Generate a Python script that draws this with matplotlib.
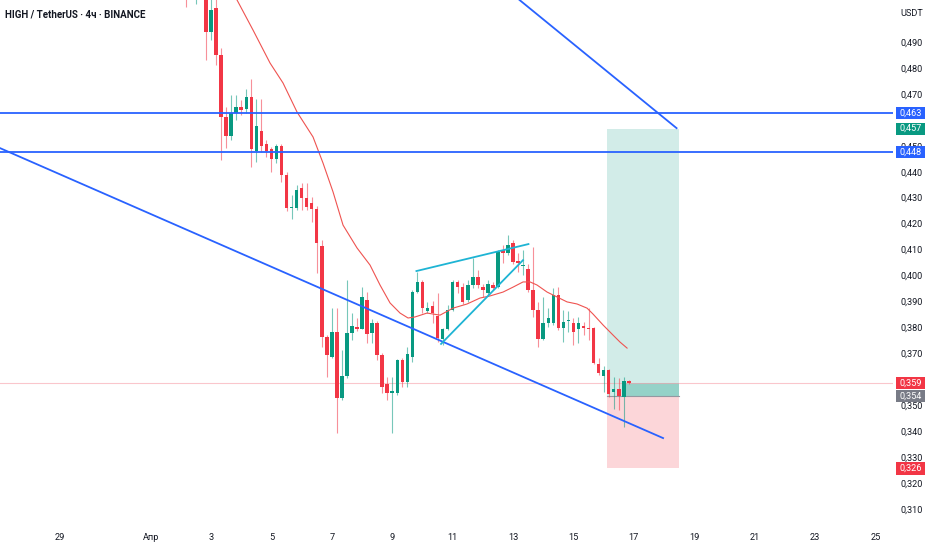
import numpy as np
import pandas as pd
import matplotlib
matplotlib.use("Agg")
import matplotlib.pyplot as plt
import matplotlib.transforms as mtransforms
from matplotlib.patches import Rectangle

# HIGH/USDT 4h candles, first bar Apr 2 04:00
FIRST_BAR = "2025-04-02 04:00"
opens = [0.515, 0.510, 0.512, 0.515, 0.511, 0.4942, 0.5035, 0.4854, 0.4615, 0.4541,
         0.4630, 0.4653, 0.4645, 0.4692, 0.4484, 0.4561, 0.4511, 0.4491, 0.4453, 0.4503,
         0.4391, 0.4264, 0.4264, 0.4341, 0.4302, 0.4283, 0.4260, 0.4118, 0.3767, 0.3690,
         0.3786, 0.3531, 0.3616, 0.3782, 0.3805, 0.3797, 0.3909, 0.3782, 0.3821, 0.3697,
         0.3585, 0.3551, 0.3551, 0.3678, 0.3593, 0.3690, 0.3940, 0.3979, 0.3867, 0.3886,
         0.3848, 0.3759, 0.3797, 0.3871, 0.3979, 0.3959, 0.3909, 0.3967, 0.3998, 0.3959,
         0.3936, 0.3967, 0.3959, 0.4102, 0.4090, 0.4129, 0.4060, 0.4040, 0.4029, 0.3948,
         0.3871, 0.3759, 0.3821, 0.3821, 0.3929, 0.3801, 0.3828, 0.3821, 0.3797, 0.3809,
         0.3797, 0.3801, 0.3663, 0.3616, 0.3639, 0.3555, 0.3566, 0.3535, 0.3597]
highs = [0.518, 0.516, 0.518, 0.517, 0.513, 0.508, 0.507, 0.4881, 0.4653, 0.4700,
         0.4700, 0.4680, 0.4723, 0.4761, 0.4684, 0.4684, 0.4526, 0.4499, 0.4511, 0.4511,
         0.4403, 0.4314, 0.4353, 0.4360, 0.4360, 0.4306, 0.4272, 0.4141, 0.3774, 0.3878,
         0.3878, 0.3717, 0.3986, 0.3859, 0.3840, 0.3959, 0.3940, 0.3836, 0.3828, 0.3705,
         0.3612, 0.3612, 0.3682, 0.3686, 0.3728, 0.3948, 0.4017, 0.3986, 0.3902, 0.3905,
         0.3936, 0.3801, 0.3890, 0.3986, 0.3986, 0.3975, 0.3986, 0.4071, 0.4025, 0.3971,
         0.3986, 0.3979, 0.4102, 0.4121, 0.4160, 0.4141, 0.4090, 0.4102, 0.4048, 0.4114,
         0.3902, 0.3921, 0.3878, 0.3956, 0.3959, 0.3871, 0.3867, 0.3840, 0.3844, 0.3824,
         0.3878, 0.3805, 0.3686, 0.3655, 0.3643, 0.3612, 0.3609, 0.3612, 0.3601]
lows = [0.504, 0.508, 0.505, 0.509, 0.4834, 0.4912, 0.4815, 0.4449, 0.4495, 0.4526,
        0.4603, 0.4622, 0.4630, 0.4422, 0.4441, 0.4480, 0.4461, 0.4403, 0.4437, 0.4364,
        0.4252, 0.4222, 0.4256, 0.4256, 0.4256, 0.4210, 0.4013, 0.3728, 0.3612, 0.3686,
        0.3397, 0.3524, 0.3610, 0.3755, 0.3790, 0.3797, 0.3743, 0.3743, 0.3678, 0.3551,
        0.3524, 0.3397, 0.3543, 0.3574, 0.3574, 0.3670, 0.3936, 0.3859, 0.3859, 0.3821,
        0.3747, 0.3736, 0.3794, 0.3867, 0.3936, 0.3894, 0.3902, 0.3956, 0.3956, 0.3921,
        0.3925, 0.3948, 0.3956, 0.4052, 0.4083, 0.4048, 0.4017, 0.4006, 0.3940, 0.3844,
        0.3728, 0.3755, 0.3805, 0.3813, 0.3794, 0.3747, 0.3786, 0.3736, 0.3743, 0.3774,
        0.3755, 0.3663, 0.3620, 0.3555, 0.3535, 0.3489, 0.3485, 0.3420, 0.3585]
closes = [0.510, 0.512, 0.515, 0.511, 0.4942, 0.5027, 0.4854, 0.4615, 0.4541, 0.4630,
          0.4653, 0.4642, 0.4692, 0.4491, 0.4580, 0.4503, 0.4484, 0.4453, 0.4503, 0.4391,
          0.4264, 0.4268, 0.4333, 0.4302, 0.4268, 0.4260, 0.4129, 0.3767, 0.3697, 0.3786,
          0.3531, 0.3616, 0.3782, 0.3809, 0.3797, 0.3921, 0.3778, 0.3821, 0.3697, 0.3574,
          0.3551, 0.3558, 0.3678, 0.3593, 0.3700, 0.3940, 0.3979, 0.3878, 0.3878, 0.3859,
          0.3763, 0.3797, 0.3871, 0.3979, 0.3959, 0.3902, 0.3967, 0.3998, 0.3967, 0.3948,
          0.3971, 0.3956, 0.4094, 0.4090, 0.4121, 0.4056, 0.4052, 0.4044, 0.3948, 0.3871,
          0.3759, 0.3821, 0.3840, 0.3929, 0.3801, 0.3824, 0.3830, 0.3786, 0.3821, 0.3801,
          0.3794, 0.3666, 0.3628, 0.3639, 0.3547, 0.3566, 0.3539, 0.3597, 0.3590]

# moving average line (april day, price)
ma_days = [3.861, 4.391, 4.954, 5.384, 5.848, 6.377, 6.709, 7.040, 7.371, 7.834,
           8.265, 8.596, 8.927, 9.258, 9.523, 9.755, 10.152, 10.583, 11.013, 11.477,
           11.907, 12.238, 12.669, 13.000, 13.331, 13.563, 13.795, 14.126, 14.457, 14.788,
           15.119, 15.450, 15.649, 15.980, 16.311, 16.543, 16.775]
ma_vals = [0.5066, 0.4950, 0.4823, 0.4746, 0.4634, 0.4538, 0.4437, 0.4326, 0.4198, 0.4110,
           0.4044, 0.3967, 0.3898, 0.3859, 0.3840, 0.3844, 0.3859, 0.3851, 0.3878, 0.3894,
           0.3917, 0.3925, 0.3940, 0.3959, 0.3979, 0.3979, 0.3967, 0.3940, 0.3921, 0.3902,
           0.3894, 0.3878, 0.3855, 0.3813, 0.3774, 0.3747, 0.3724]

# drawings
h_levels = [0.463, 0.448]
upper_trend = ([13.215, 18.414], [0.5066, 0.4572])
lower_trend = ([-3.987, 17.967], [0.4495, 0.3377])
wedge_top = ([9.801, 13.51], [0.4021, 0.4125])
wedge_bottom = ([10.616, 13.33], [0.3740, 0.4063])

entry, target, stop = 0.354, 0.457, 0.326
pos_start, pos_end, pnl_start = 16.113, 18.497, 16.62
last_price = 0.359

price_tags = [(0.463, "#2962FF"), (0.457, "#089981"), (0.448, "#2962FF"),
              (0.359, "#F23645"), (0.354, "#787B86"), (0.326, "#F23645")]
# 0,460 and 0,360 sit fully under the price tags, so they are not shown
y_ticks = [0.49, 0.48, 0.47, 0.45, 0.44, 0.43, 0.42, 0.41, 0.40,
           0.39, 0.38, 0.37, 0.35, 0.34, 0.33, 0.32, 0.31]
x_ticks = [-2, 1, 3, 5, 7, 9, 11, 13, 15, 17, 19, 21, 23, 25]
x_labels = ["29", "Апр", "3", "5", "7", "9", "11", "13", "15", "17", "19", "21", "23", "25"]

UP = "#089981"
DOWN = "#F23645"
BLUE = "#2962FF"
TEXT = "#131722"
W, H = 932, 550

plt.rcParams["font.family"] = ["Roboto", "DejaVu Sans"]

fig = plt.figure(figsize=(W / 100, H / 100), dpi=100)
ax = fig.add_axes([0, 1 - 523 / H, 893 / W, 523 / H])
ax.axis("off")
ax.set_xlim(-3.987, 25.58)
ax.set_ylim(0.30496, 0.5066)

bars = pd.date_range(FIRST_BAR, periods=len(opens), freq="4h")
x = ((bars - pd.Timestamp("2025-04-01")) / pd.Timedelta(days=1) + 1).to_numpy()
o = np.array(opens)
c = np.array(closes)
colors = [UP if cc >= oo else DOWN for oo, cc in zip(o, c)]
body = c - o
body = np.where(np.abs(body) < 0.0004, 0.0004, body)

# position tool
ax.add_patch(Rectangle((pos_start, entry), pos_end - pos_start, target - entry,
                       color=UP, alpha=0.18, lw=0, zorder=1))
ax.add_patch(Rectangle((pos_start, stop), pos_end - pos_start, entry - stop,
                       color=DOWN, alpha=0.2, lw=0, zorder=1))
ax.add_patch(Rectangle((pnl_start, entry), pos_end - pnl_start, last_price - entry,
                       color=UP, alpha=0.3, lw=0, zorder=1))
ax.plot([pos_start, pos_end], [entry, entry], color="#9598A1", lw=0.8, zorder=1)

ax.axhline(last_price, color="#F7A1AA", lw=0.8, alpha=0.6, zorder=1)

ax.vlines(x, lows, highs, colors=colors, lw=0.8, alpha=0.55, zorder=2)
ax.bar(x, body, bottom=o, width=0.7 / 6, color=colors, lw=0, zorder=3)

ax.plot(ma_days, ma_vals, color="#EF5350", lw=0.8, zorder=4)

for lvl in h_levels:
    ax.axhline(lvl, color=BLUE, lw=1.3, zorder=5)
for xs, ys in (upper_trend, lower_trend):
    ax.plot(xs, ys, color=BLUE, lw=1.3, zorder=5)
for xs, ys in (wedge_top, wedge_bottom):
    ax.plot(xs, ys, color="#1EB4D4", lw=1.3, zorder=5)

# price scale on the right
ty = mtransforms.blended_transform_factory(fig.transFigure, ax.transData)
for v in y_ticks:
    ax.text(911.5 / W, v, f"{v:.3f}".replace(".", ","), transform=ty, clip_on=False,
            ha="center", va="center", fontsize=6.6, color=TEXT, zorder=6)
for p, col in price_tags:
    ax.add_patch(Rectangle((895.7 / W, p - 0.00235), 29.3 / W, 0.0047, transform=ty,
                           color=col, lw=0, clip_on=False, zorder=7))
    ax.text(910.5 / W, p, f"{p:.3f}".replace(".", ","), transform=ty, clip_on=False,
            ha="center", va="center", fontsize=6.6, color="white", zorder=8)
fig.text(912 / W, 1 - 14 / H, "USDT", ha="center", va="center", fontsize=6.6, color=TEXT)

# time scale
tx = mtransforms.blended_transform_factory(ax.transData, fig.transFigure)
for d, lab in zip(x_ticks, x_labels):
    ax.text(d, 1 - 537 / H, lab, transform=tx, clip_on=False, ha="center", va="center",
            fontsize=6.6, color=TEXT)

fig.text(5 / W, 1 - 14 / H, "HIGH / TetherUS · 4ч · BINANCE", ha="left", va="center",
         fontsize=7.0, fontweight="bold", color=TEXT)

fig.savefig("out.png", dpi=100)
